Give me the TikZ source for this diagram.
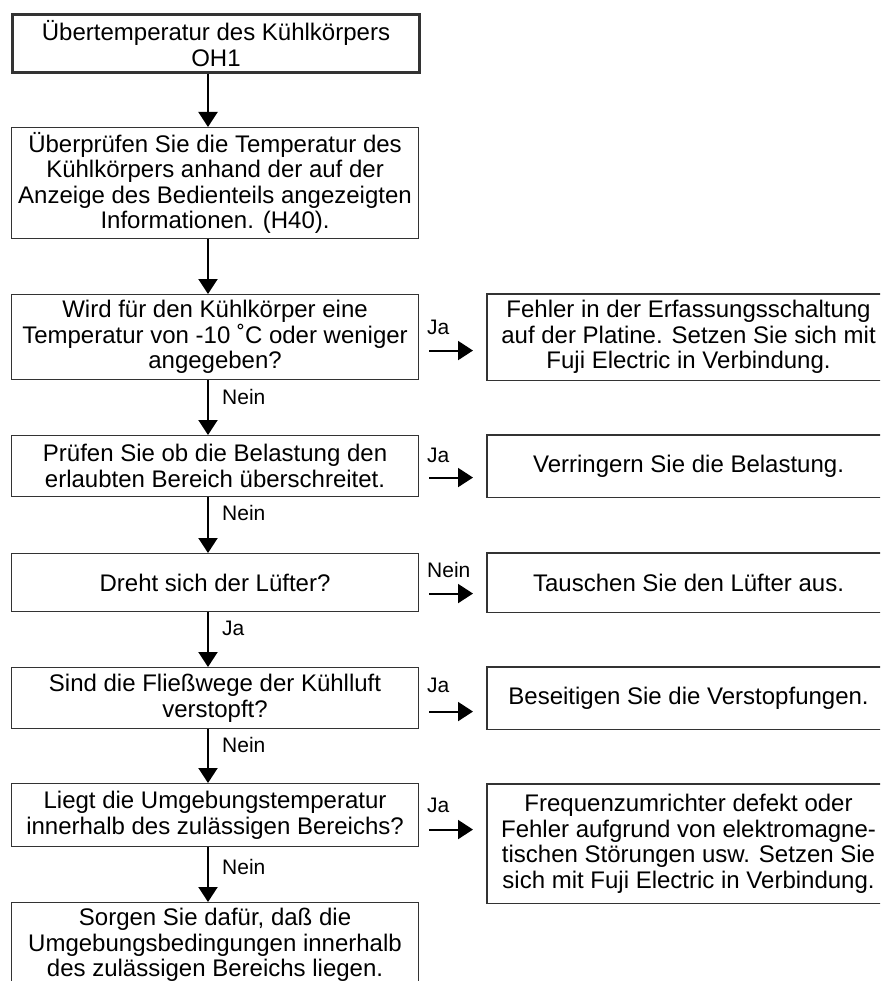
\documentclass[tikz,border=0pt]{standalone}
\usepackage{fontspec}
\setmainfont{Liberation Sans}
\usetikzlibrary{arrows.meta,calc}
\begin{document}
\begin{tikzpicture}[x=1pt,y=-1pt,
  box/.style={draw=black!80, line width=1.1pt, inner sep=0pt, align=center,
    font=\fontsize{24}{25.5}\selectfont, anchor=north west},
  leftbox/.style={box, minimum width=407pt},
  rightbox/.style={box, draw=none, minimum width=402pt},
  frame/.style={draw=black!80, line width=1.1pt},
  lbl/.style={inner sep=0pt, font=\fontsize{21}{23}\selectfont, anchor=west},
  arr/.style={line width=2pt, -{Triangle[length=15pt,width=19pt]}},
  sidearr/.style={arr, shorten <=10pt, shorten >=14pt}
]
\path[use as bounding box] (0,0) rectangle (880,981);
\clip (0,0) rectangle (880,981);

% left column
\node[leftbox, line width=3pt, minimum height=58pt] (L1) at (11,13)
  {Übertemperatur des Kühlkörpers\\OH1};
\node[leftbox, minimum height=111pt] (L2) at (11,127)
  {Überprüfen Sie die Temperatur des\\Kühlkörpers anhand der auf der\\Anzeige des Bedienteils angezeigten\\Informationen. (H40).};
\node[leftbox, minimum height=85pt] (L3) at (11,294)
  {Wird für den Kühlkörper eine\\Temperatur von -10 ˚C oder weniger\\angegeben?};
\node[leftbox, minimum height=61pt] (L4) at (11,435)
  {Prüfen Sie ob die Belastung den\\erlaubten Bereich überschreitet.};
\node[leftbox, minimum height=58pt] (L5) at (11,553)
  {Dreht sich der Lüfter?};
\node[leftbox, minimum height=61pt] (L6) at (11,667)
  {Sind die Fließwege der Kühlluft\\verstopft?};
\node[leftbox, minimum height=63pt] (L7) at (11,783)
  {Liegt die Umgebungstemperatur\\innerhalb des zulässigen Bereichs?};
\node[leftbox, minimum height=85pt] (L8) at (11,902)
  {Sorgen Sie dafür, daß die\\Umgebungsbedingungen innerhalb\\des zulässigen Bereichs liegen.};

% right column (right edge runs off the picture)
\node[rightbox, minimum height=85pt] (R1) at (487,294)
  {Fehler in der Erfassungsschaltung\\auf der Platine. Setzen Sie sich mit\\Fuji Electric in Verbindung.};
\node[rightbox, minimum height=61pt] (R2) at (487,435)
  {Verringern Sie die Belastung.};
\node[rightbox, minimum height=58pt] (R3) at (487,553)
  {Tauschen Sie den Lüfter aus.};
\node[rightbox, minimum height=61pt] (R4) at (487,667)
  {Beseitigen Sie die Verstopfungen.};
\node[rightbox, minimum height=118pt] (R5) at (487,784)
  {Frequenzumrichter defekt oder\\Fehler aufgrund von elektromagne-\\tischen Störungen usw. Setzen Sie\\sich mit Fuji Electric in Verbindung.};
\foreach \r in {R1,R2,R3,R4,R5}
  \draw[frame] (\r.north west) rectangle ([xshift=20pt]\r.south east);

% vertical arrows
\coordinate (ax) at (208,0);
\draw[arr] (L1.south -| ax) -- (L2.north -| ax);
\draw[arr] (L2.south -| ax) -- (L3.north -| ax);
\draw[arr] (L3.south -| ax) -- (L4.north -| ax);
\draw[arr] (L4.south -| ax) -- (L5.north -| ax);
\draw[arr] (L5.south -| ax) -- (L6.north -| ax);
\draw[arr] (L6.south -| ax) -- (L7.north -| ax);
\draw[arr] (L7.south -| ax) -- (L8.north -| ax);

% vertical labels
\node[lbl] (n3) at (222,397) {Nein};
\node[lbl] (n4) at (222,513) {Nein};
\node[lbl] (n5) at (222,628) {Ja};
\node[lbl] (n6) at (222,745) {Nein};
\node[lbl] (n7) at (222,867) {Nein};

% side arrows
\coordinate (j3) at ([yshift=-13.5pt]L3.east);
\coordinate (j4) at ([yshift=-11.5pt]L4.east);
\coordinate (j5) at ([yshift=-11pt]L5.east);
\coordinate (j6) at ([yshift=-13.5pt]L6.east);
\coordinate (j7) at ([yshift=-14.5pt]L7.east);
\draw[sidearr] (j3) -- (j3 -| R1.west);
\draw[sidearr] (j4) -- (j4 -| R2.west);
\draw[sidearr] (j5) -- (j5 -| R3.west);
\draw[sidearr] (j6) -- (j6 -| R4.west);
\draw[sidearr] (j7) -- (j7 -| R5.west);

% side labels
\node[lbl] (s3) at (427,327) {Ja};
\node[lbl] (s4) at (427,455) {Ja};
\node[lbl] (s5) at (427,570) {Nein};
\node[lbl] (s6) at (427,685) {Ja};
\node[lbl] (s7) at (427,805) {Ja};
\end{tikzpicture}
\end{document}
